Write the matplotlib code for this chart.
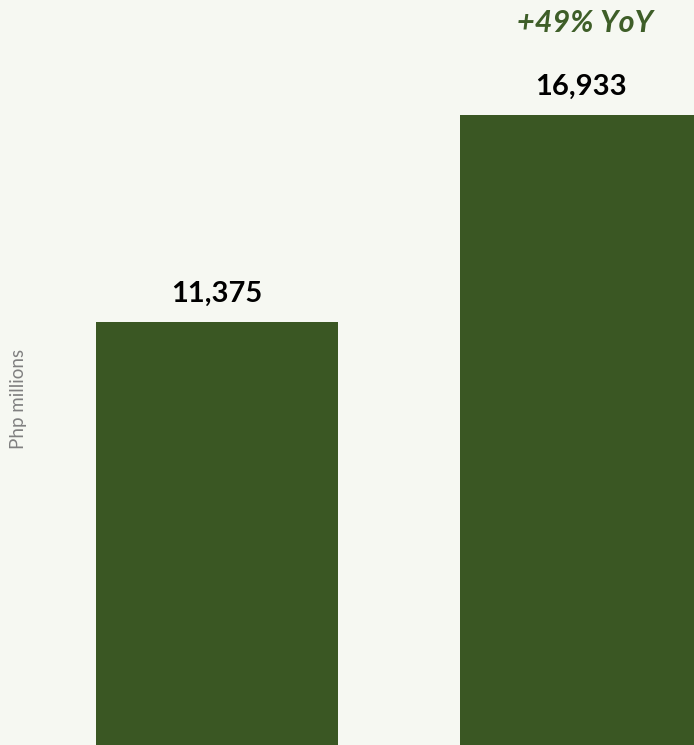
import matplotlib
matplotlib.use("Agg")
from matplotlib import pyplot as plt

years = ["2023", "2024"]
revenue = [11375, 16933]
growth_label = "+49% YoY"

bg = "#f6f8f2"
bar_green = "#3a5723"
text_green = "#3e5e28"

plt.rcParams['font.family'] = ['Lato', 'DejaVu Sans']

fig = plt.figure(figsize=(6.94, 7.45), dpi=100, facecolor=bg)
ax = fig.add_axes([0, 0, 1, 1])
ax.set_facecolor(bg)

x = list(range(len(years)))
bars = ax.bar(x, revenue, width=0.665, color=bar_green)

# value labels above each bar
for xi, v in zip(x, revenue):
    ax.text(xi, v + 540, f"{v:,}", ha="center", va="baseline",
            fontsize=21, fontweight="bold", color="black")

ax.text(x[-1] + 0.01, revenue[-1] + 2230, growth_label, ha="center", va="baseline",
        fontsize=22, fontweight="bold", style="italic", color=text_green)

ax.set_xlim(-0.596, 1.31)
ax.set_ylim(0, 20020)
ax.axis("off")

fig.text(0.027, 0.465, "Php millions", rotation=90, ha="center", va="center",
         fontsize=13.5, color="#808080")

plt.savefig("out.png", dpi=100, facecolor=bg)
